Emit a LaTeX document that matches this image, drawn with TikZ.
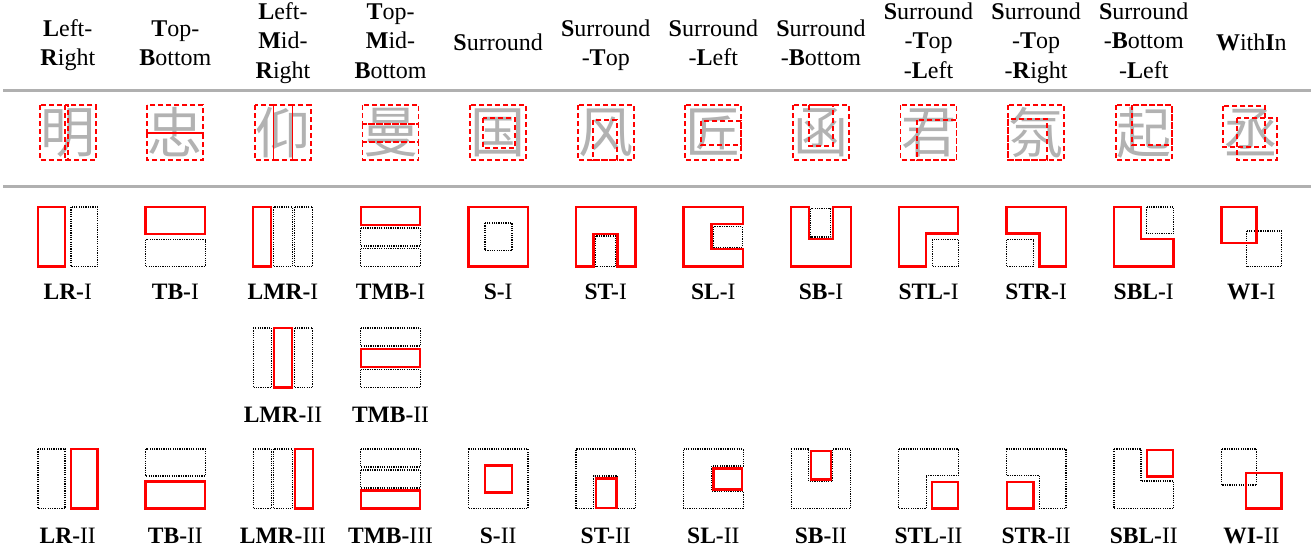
\documentclass[tikz,border=0pt]{standalone}
\usepackage{fontspec}
\setmainfont{Liberation Serif}
\newfontfamily\cjk{Noto Sans CJK SC}
\definecolor{rulegray}{RGB}{176,176,176}
\definecolor{chargray}{RGB}{178,178,178}
\newcommand\hdrtxt[1]{\begin{tabular}[t]{@{}c@{}}#1\end{tabular}}
\tikzset{
 comp/.style={draw=red, line width=2.3pt},
 slot/.style={draw=black, line width=1.2pt, dash pattern=on 1.2pt off 1.1pt},
 cbox/.style={draw=red, line width=1.8pt, dash pattern=on 5pt off 3pt},
 hdr/.style={anchor=base, inner sep=0pt, font=\fontsize{24}{29.5}\selectfont},
 lbl/.style={anchor=base, inner sep=0pt, font=\fontsize{23.5}{27}\selectfont},
 glyph/.style={inner sep=0pt, text=chargray, font=\cjk\fontsize{55}{55}\selectfont},
 hrule/.style={draw=rulegray, line width=3pt},
}
\begin{document}
\begin{tikzpicture}[x=1pt,y=-1pt]
\useasboundingbox (0,0) rectangle (1315,552);
\fill[white] (0,0) rectangle (1315,552);

% ---------------- headers ----------------
\node[hdr] (h0) at (67.75,36) {\hdrtxt{\textbf{L}eft-\\\textbf{R}ight}};
\node[hdr] (h1) at (175.35,36) {\hdrtxt{\textbf{T}op-\\\textbf{B}ottom}};
\node[hdr] (h2) at (282.95,19) {\hdrtxt{\textbf{L}eft-\\\textbf{M}id-\\\textbf{R}ight}};
\node[hdr] (h3) at (390.55,19) {\hdrtxt{\textbf{T}op-\\\textbf{M}id-\\\textbf{B}ottom}};
\node[hdr] (h4) at (498.15,50) {\hdrtxt{\textbf{S}urround}};
\node[hdr] (h5) at (605.75,36) {\hdrtxt{\textbf{S}urround\\-\textbf{T}op}};
\node[hdr] (h6) at (713.35,36) {\hdrtxt{\textbf{S}urround\\-\textbf{L}eft}};
\node[hdr] (h7) at (820.95,36) {\hdrtxt{\textbf{S}urround\\-\textbf{B}ottom}};
\node[hdr] (h8) at (928.55,19) {\hdrtxt{\textbf{S}urround\\-\textbf{T}op\\-\textbf{L}eft}};
\node[hdr] (h9) at (1036.15,19) {\hdrtxt{\textbf{S}urround\\-\textbf{T}op\\-\textbf{R}ight}};
\node[hdr] (h10) at (1143.75,19) {\hdrtxt{\textbf{S}urround\\-\textbf{B}ottom\\-\textbf{L}eft}};
\node[hdr] (h11) at (1251.35,50) {\hdrtxt{\textbf{W}ith\textbf{I}n}};

% ---------------- rules ----------------
\coordinate (r1a) at (3,90.5);  \coordinate (r1b) at (1311,90.5);
\coordinate (r2a) at (3,186.5); \coordinate (r2b) at (1311,186.5);
\draw[hrule] (r1a) -- (r1b);
\draw[hrule] (r2a) -- (r2b);

% ---------------- characters ----------------
\node[glyph] (c0) at (67.75,132.5) {明};
\node[glyph] (c1) at (175.35,132.5) {忠};
\node[glyph] (c2) at (282.95,132.5) {仰};
\node[glyph] (c3) at (390.55,132.5) {曼};
\node[glyph] (c4) at (498.15,132.5) {国};
\node[glyph] (c5) at (605.75,132.5) {风};
\node[glyph] (c6) at (713.35,132.5) {匠};
\node[glyph] (c7) at (820.95,132.5) {函};
\node[glyph] (c8) at (928.55,132.5) {君};
\node[glyph] (c9) at (1036.15,132.5) {氛};
\node[glyph] (c10) at (1143.75,132.5) {起};
\node[glyph] (c11) at (1251.35,132.5) {丞};

\begin{scope}[shift={(67.75,0)}]
 \draw[cbox] (-28,105) rectangle (0,160); \draw[cbox] (-2.5,105) rectangle (28,160);
\end{scope}
\begin{scope}[shift={(175.35,0)}]
 \draw[cbox] (-28,105) rectangle (28,133); \draw[cbox] (-28,133) rectangle (28,160);
\end{scope}
\begin{scope}[shift={(282.95,0)}]
 \draw[cbox] (-28,105) rectangle (-9.5,160); \draw[cbox] (-9.5,105) rectangle (9.5,160); \draw[cbox] (9.5,105) rectangle (28,160);
\end{scope}
\begin{scope}[shift={(390.55,0)}]
 \draw[cbox] (-28,105) rectangle (28,124); \draw[cbox] (-28,124) rectangle (28,142); \draw[cbox] (-28,142) rectangle (28,160);
\end{scope}
\begin{scope}[shift={(498.15,0)}]
 \draw[cbox] (-28,105) rectangle (28,160); \draw[cbox] (-15,118) rectangle (17,148);
\end{scope}
\begin{scope}[shift={(605.75,0)}]
 \draw[cbox] (-28,105) rectangle (28,160); \draw[cbox] (-12.5,120) rectangle (11.5,160);
\end{scope}
\begin{scope}[shift={(713.35,0)}]
 \draw[cbox] (-28,105) rectangle (28,160); \draw[cbox] (-12,121) rectangle (28,145);
\end{scope}
\begin{scope}[shift={(820.95,0)}]
 \draw[cbox] (-28,105) rectangle (28,160); \draw[cbox] (-12,105) rectangle (12,146);
\end{scope}
\begin{scope}[shift={(928.55,0)}]
 \draw[cbox] (-28,105) rectangle (28,160); \draw[cbox] (-11.5,120) rectangle (28,160);
\end{scope}
\begin{scope}[shift={(1036.15,0)}]
 \draw[cbox] (-28,105) rectangle (28,160); \draw[cbox] (-28,119) rectangle (11,160);
\end{scope}
\begin{scope}[shift={(1143.75,0)}]
 \draw[cbox] (-28,105) rectangle (28,160); \draw[cbox] (-11.5,105) rectangle (28,145);
\end{scope}
\begin{scope}[shift={(1251.35,0)}]
 \draw[cbox] (-28,106) rectangle (14,147); \draw[cbox] (-14,118) rectangle (26,160);
\end{scope}

% ---------------- icons, row 1 (I) ----------------
% LR-I
\begin{scope}[shift={(38,207)}]
 \draw[slot] (33,0) rectangle (59.5,59.5);
 \draw[comp] (0,0) rectangle (27,59.5);
\end{scope}
% TB-I
\begin{scope}[shift={(145.6,207)}]
 \draw[slot] (0,32.5) rectangle (59.5,59.5);
 \draw[comp] (0,0) rectangle (59.5,27);
\end{scope}
% LMR-I
\begin{scope}[shift={(253.2,207)}]
 \draw[slot] (20.5,0) rectangle (39,59.5);
 \draw[slot] (41.5,0) rectangle (59.5,59.5);
 \draw[comp] (0,0) rectangle (18,59.5);
\end{scope}
% TMB-I
\begin{scope}[shift={(360.8,207)}]
 \draw[slot] (0,21) rectangle (59.5,39);
 \draw[slot] (0,41.5) rectangle (59.5,59.5);
 \draw[comp] (0,0) rectangle (59.5,18);
\end{scope}
% S-I
\begin{scope}[shift={(468.4,207)}]
 \draw[slot] (16.5,16) rectangle (43.5,43.5);
 \draw[comp] (0,0) rectangle (59.5,59.5);
\end{scope}
% ST-I
\begin{scope}[shift={(576,207)}]
 \draw[slot] (19.5,29) rectangle (39.5,59.5);
 \draw[comp] (0,59.5) -- (0,0) -- (59.5,0) -- (59.5,59.5) -- (41.5,59.5) -- (41.5,27) -- (17.5,27) -- (17.5,59.5) -- cycle;
\end{scope}
% SL-I
\begin{scope}[shift={(683.6,207)}]
 \draw[slot] (30,19.5) rectangle (58.5,40.5);
 \draw[comp] (0,0) -- (59.5,0) -- (59.5,17) -- (28,17) -- (28,42) -- (59.5,42) -- (59.5,59.5) -- (0,59.5) -- cycle;
\end{scope}
% SB-I
\begin{scope}[shift={(791.2,207)}]
 \draw[slot] (19.5,1.5) rectangle (39.5,30);
 \draw[comp] (0,0) -- (17.5,0) -- (17.5,32) -- (41.5,32) -- (41.5,0) -- (59.5,0) -- (59.5,59.5) -- (0,59.5) -- cycle;
\end{scope}
% STL-I
\begin{scope}[shift={(898.8,207)}]
 \draw[slot] (33.5,32.5) rectangle (59.5,59.5);
 \draw[comp] (0,0) -- (59.5,0) -- (59.5,26.5) -- (27.5,26.5) -- (27.5,59.5) -- (0,59.5) -- cycle;
\end{scope}
% STR-I
\begin{scope}[shift={(1006.4,207)}]
 \draw[slot] (0,32.5) rectangle (27,59.5);
 \draw[comp] (0,0) -- (59.5,0) -- (59.5,59.5) -- (33,59.5) -- (33,26.5) -- (0,26.5) -- cycle;
\end{scope}
% SBL-I
\begin{scope}[shift={(1114,207)}]
 \draw[slot] (32.5,0) rectangle (59.5,26.5);
 \draw[comp] (0,0) -- (27,0) -- (27,32) -- (59.5,32) -- (59.5,59.5) -- (0,59.5) -- cycle;
\end{scope}
% WI-I
\begin{scope}[shift={(1221.6,207)}]
 \draw[slot] (24.5,24) rectangle (60,59.5);
 \draw[comp] (0,0) rectangle (35,36);
\end{scope}

% ---------------- icons, row 2 ----------------
% LMR-II
\begin{scope}[shift={(253.2,328)}]
 \draw[slot] (0,0) rectangle (18,59.5);
 \draw[slot] (41.5,0) rectangle (59.5,59.5);
 \draw[comp] (20.5,0) rectangle (39,59.5);
\end{scope}
% TMB-II
\begin{scope}[shift={(360.8,328)}]
 \draw[slot] (0,0) rectangle (59.5,18);
 \draw[slot] (0,41.5) rectangle (59.5,59.5);
 \draw[comp] (0,21) rectangle (59.5,39);
\end{scope}

% ---------------- icons, row 3 (II / III) ----------------
% LR-II
\begin{scope}[shift={(38,449)}]
 \draw[slot] (0,0) rectangle (27,59.5);
 \draw[comp] (33,0) rectangle (59.5,59.5);
\end{scope}
% TB-II
\begin{scope}[shift={(145.6,449)}]
 \draw[slot] (0,0) rectangle (59.5,27);
 \draw[comp] (0,32.5) rectangle (59.5,59.5);
\end{scope}
% LMR-III
\begin{scope}[shift={(253.2,449)}]
 \draw[slot] (0,0) rectangle (18,59.5);
 \draw[slot] (20.5,0) rectangle (39,59.5);
 \draw[comp] (41.5,0) rectangle (59.5,59.5);
\end{scope}
% TMB-III
\begin{scope}[shift={(360.8,449)}]
 \draw[slot] (0,0) rectangle (59.5,18);
 \draw[slot] (0,21) rectangle (59.5,39);
 \draw[comp] (0,41.5) rectangle (59.5,59.5);
\end{scope}
% S-II
\begin{scope}[shift={(468.4,449)}]
 \draw[slot] (0,0) rectangle (59.5,59.5);
 \draw[comp] (16.5,16.5) rectangle (43.5,43.5);
\end{scope}
% ST-II
\begin{scope}[shift={(576,449)}]
 \draw[slot] (0,59.5) -- (0,0) -- (59.5,0) -- (59.5,59.5) -- (41.5,59.5) -- (41.5,27) -- (17.5,27) -- (17.5,59.5) -- cycle;
 \draw[comp] (20,29.5) rectangle (40.5,59);
\end{scope}
% SL-II
\begin{scope}[shift={(683.6,449)}]
 \draw[slot] (0,0) -- (59.5,0) -- (59.5,17) -- (28,17) -- (28,42) -- (59.5,42) -- (59.5,59.5) -- (0,59.5) -- cycle;
 \draw[comp] (30,19.5) rectangle (58.5,40.5);
\end{scope}
% SB-II
\begin{scope}[shift={(791.2,449)}]
 \draw[slot] (0,0) -- (17.5,0) -- (17.5,32) -- (41.5,32) -- (41.5,0) -- (59.5,0) -- (59.5,59.5) -- (0,59.5) -- cycle;
 \draw[comp] (19.5,2) rectangle (40,30.5);
\end{scope}
% STL-II
\begin{scope}[shift={(898.8,449)}]
 \draw[slot] (0,0) -- (59.5,0) -- (59.5,26.5) -- (27.5,26.5) -- (27.5,59.5) -- (0,59.5) -- cycle;
 \draw[comp] (33.5,33) rectangle (59,59.5);
\end{scope}
% STR-II
\begin{scope}[shift={(1006.4,449)}]
 \draw[slot] (0,0) -- (59.5,0) -- (59.5,59.5) -- (33,59.5) -- (33,26.5) -- (0,26.5) -- cycle;
 \draw[comp] (0.5,33) rectangle (27,59.5);
\end{scope}
% SBL-II
\begin{scope}[shift={(1114,449)}]
 \draw[slot] (0,0) -- (27,0) -- (27,32) -- (59.5,32) -- (59.5,59.5) -- (0,59.5) -- cycle;
 \draw[comp] (33,1) rectangle (59,27.5);
\end{scope}
% WI-II
\begin{scope}[shift={(1221.6,449)}]
 \draw[slot] (0,0) rectangle (35,36);
 \draw[comp] (24.5,24) rectangle (60,59.5);
\end{scope}

% ---------------- labels ----------------
\node[lbl] (l0) at (67.75,299) {\textbf{LR-}I};
\node[lbl] (l1) at (175.35,299) {\textbf{TB-}I};
\node[lbl] (l2) at (282.95,299) {\textbf{LMR-}I};
\node[lbl] (l3) at (390.55,299) {\textbf{TMB-}I};
\node[lbl] (l4) at (498.15,299) {\textbf{S-}I};
\node[lbl] (l5) at (605.75,299) {\textbf{ST-}I};
\node[lbl] (l6) at (713.35,299) {\textbf{SL-}I};
\node[lbl] (l7) at (820.95,299) {\textbf{SB-}I};
\node[lbl] (l8) at (928.55,299) {\textbf{STL-}I};
\node[lbl] (l9) at (1036.15,299) {\textbf{STR-}I};
\node[lbl] (l10) at (1143.75,299) {\textbf{SBL-}I};
\node[lbl] (l11) at (1251.35,299) {\textbf{WI-}I};

\node[lbl] (m2) at (282.95,422) {\textbf{LMR-}II};
\node[lbl] (m3) at (390.55,422) {\textbf{TMB-}II};

\node[lbl] (n0) at (67.75,543) {\textbf{LR-}II};
\node[lbl] (n1) at (175.35,543) {\textbf{TB-}II};
\node[lbl] (n2) at (282.95,543) {\textbf{LMR-}III};
\node[lbl] (n3) at (390.55,543) {\textbf{TMB-}III};
\node[lbl] (n4) at (498.15,543) {\textbf{S-}II};
\node[lbl] (n5) at (605.75,543) {\textbf{ST-}II};
\node[lbl] (n6) at (713.35,543) {\textbf{SL-}II};
\node[lbl] (n7) at (820.95,543) {\textbf{SB-}II};
\node[lbl] (n8) at (928.55,543) {\textbf{STL-}II};
\node[lbl] (n9) at (1036.15,543) {\textbf{STR-}II};
\node[lbl] (n10) at (1143.75,543) {\textbf{SBL-}II};
\node[lbl] (n11) at (1251.35,543) {\textbf{WI-}II};
\end{tikzpicture}
\end{document}
